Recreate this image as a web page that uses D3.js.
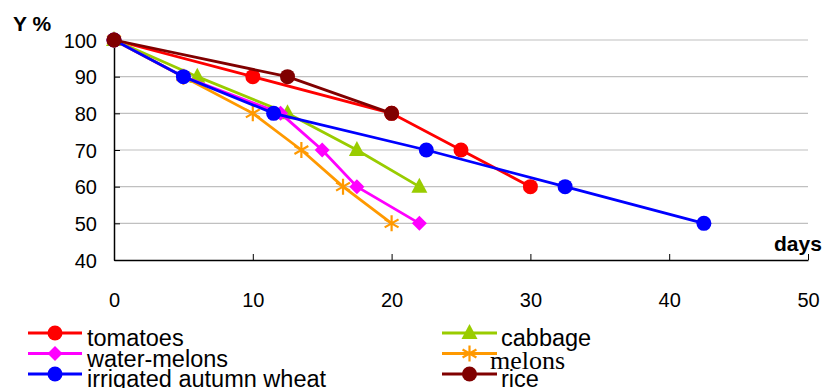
<!DOCTYPE html>
<html>
<head>
<meta charset="utf-8">
<script src="https://cdn.jsdelivr.net/npm/d3@7/dist/d3.min.js"></script>
<style>
  html, body { margin: 0; padding: 0; background: #fff; }
  svg { display: block; font-family: "Liberation Sans", Arial, sans-serif; }
</style>
</head>
<body>
<svg id="chart" width="822" height="388"></svg>
<script>
// Yield (%) over days for each crop
const xTicks = [0, 10, 20, 30, 40, 50];
const yTicks = [40, 50, 60, 70, 80, 90, 100];

const tomatoesDays  = [0, 10, 20, 25, 30];
const tomatoesY     = [100, 90, 80, 70, 60];
const cabbageDays   = [0, 6, 12.5, 17.5, 22];
const cabbageY      = [100, 90, 80, 70, 60];
const waterMelonsDays = [0, 5, 12, 15, 17.5, 22];
const waterMelonsY    = [100, 90, 80, 70, 60, 50];
const melonsDays    = [0, 5, 10, 13.5, 16.5, 20];
const melonsY       = [100, 90, 80, 70, 60, 50];
const wheatDays     = [0, 5, 11.5, 22.5, 32.5, 42.5];
const wheatY        = [100, 90, 80, 70, 60, 50];
const riceDays      = [0, 12.5, 20];
const riceY         = [100, 90, 80];

const series = [
  { name: "tomatoes", days: tomatoesDays, y: tomatoesY, color: "#FF0000", marker: "circle", col: 0, row: 0 },
  { name: "cabbage", days: cabbageDays, y: cabbageY, color: "#99CC00", marker: "triangle", col: 1, row: 0 },
  { name: "water-melons", days: waterMelonsDays, y: waterMelonsY, color: "#FF00FF", marker: "diamond", col: 0, row: 1 },
  { name: "melons", days: melonsDays, y: melonsY, color: "#FF9900", marker: "asterisk", col: 1, row: 1, serif: true },
  { name: "irrigated autumn wheat", days: wheatDays, y: wheatY, color: "#0000FF", marker: "circle", col: 0, row: 2 },
  { name: "rice", days: riceDays, y: riceY, color: "#800000", marker: "circle", col: 1, row: 2 }
];

const svg = d3.select("#chart");
const x = d3.scaleLinear().domain([0, 50]).range([114, 808]);
const y = d3.scaleLinear().domain([40, 100]).range([260, 40]);

// horizontal gridlines
svg.append("g")
  .selectAll("line")
  .data(yTicks.filter(d => d > 40))
  .join("line")
  .attr("x1", x(0)).attr("x2", x(50))
  .attr("y1", d => y(d)).attr("y2", d => y(d))
  .attr("stroke", "#C0C0C0").attr("stroke-width", 1.2);

// axes with inward ticks
const xAxis = svg.append("g")
  .attr("transform", `translate(0,${y(40)})`)
  .call(d3.axisBottom(x).tickValues(xTicks).tickSize(-6).tickPadding(33).tickSizeOuter(0));
const yAxis = svg.append("g")
  .attr("transform", `translate(${x(0)},0)`)
  .call(d3.axisLeft(y).tickValues(yTicks).tickSize(-6).tickPadding(17).tickSizeOuter(0));

[xAxis, yAxis].forEach(g => {
  g.select(".domain").attr("stroke", "#000").attr("stroke-width", 1.5);
  g.selectAll(".tick line").attr("stroke", "#000").attr("stroke-width", 1);
  g.selectAll(".tick text")
    .attr("fill", "#000")
    .style("font-family", "'Liberation Sans', Arial, sans-serif")
    .style("font-size", "20px");
});
yAxis.selectAll(".tick text").attr("dy", "0.36em");

// axis titles
svg.append("text").attr("x", 13).attr("y", 31)
  .style("font-weight", "bold").style("font-size", "21px").text("Y %");
svg.append("text").attr("x", 774).attr("y", 251)
  .style("font-weight", "bold").style("font-size", "21px").text("days");

// marker drawing
function drawMarker(g, type, color, cx, cy) {
  if (type === "circle") {
    g.append("circle").attr("cx", cx).attr("cy", cy).attr("r", 7.5).attr("fill", color);
  } else if (type === "triangle") {
    g.append("path")
      .attr("d", `M${cx},${cy - 9}L${cx + 8},${cy + 6}L${cx - 8},${cy + 6}Z`)
      .attr("fill", color);
  } else if (type === "diamond") {
    g.append("path")
      .attr("d", `M${cx},${cy - 7.5}L${cx + 7.5},${cy}L${cx},${cy + 7.5}L${cx - 7.5},${cy}Z`)
      .attr("fill", color);
  } else if (type === "asterisk") {
    const r = 8;
    const p = [];
    for (let i = 0; i < 3; i++) {
      const a = Math.PI / 2 + i * Math.PI / 3;
      p.push(`M${cx + r * Math.cos(a)},${cy + r * Math.sin(a)}L${cx - r * Math.cos(a)},${cy - r * Math.sin(a)}`);
    }
    g.append("path").attr("d", p.join("")).attr("stroke", color).attr("stroke-width", 2.2).attr("fill", "none");
  }
}

const line = d3.line().x(d => x(d[0])).y(d => y(d[1]));

series.forEach(s => {
  const pts = s.days.map((d, i) => [d, s.y[i]]);
  const g = svg.append("g");
  g.append("path").attr("d", line(pts))
    .attr("fill", "none").attr("stroke", s.color).attr("stroke-width", 2.8);
  pts.forEach(p => drawMarker(g, s.marker, s.color, x(p[0]), y(p[1])));
});

// legend
const legendCols = [{ x1: 28, x2: 82, tx: 87 }, { x1: 442, x2: 497, tx: 501 }];
const legendRows = [333, 353.5, 374];
series.forEach(s => {
  const c = legendCols[s.col];
  const cy = legendRows[s.row];
  const g = svg.append("g");
  g.append("line").attr("x1", c.x1).attr("x2", c.x2).attr("y1", cy).attr("y2", cy)
    .attr("stroke", s.color).attr("stroke-width", 2.8);
  drawMarker(g, s.marker, s.color, (c.x1 + c.x2) / 2, cy);
  const t = g.append("text").attr("y", cy + 13).style("font-size", "23.5px").text(s.name);
  if (s.serif) {
    t.attr("x", 490).attr("y", cy + 15).style("font-family", "'Liberation Serif', 'Times New Roman', serif").style("font-size", "26px");
  } else {
    t.attr("x", c.tx);
  }
});
</script>
</body>
</html>
